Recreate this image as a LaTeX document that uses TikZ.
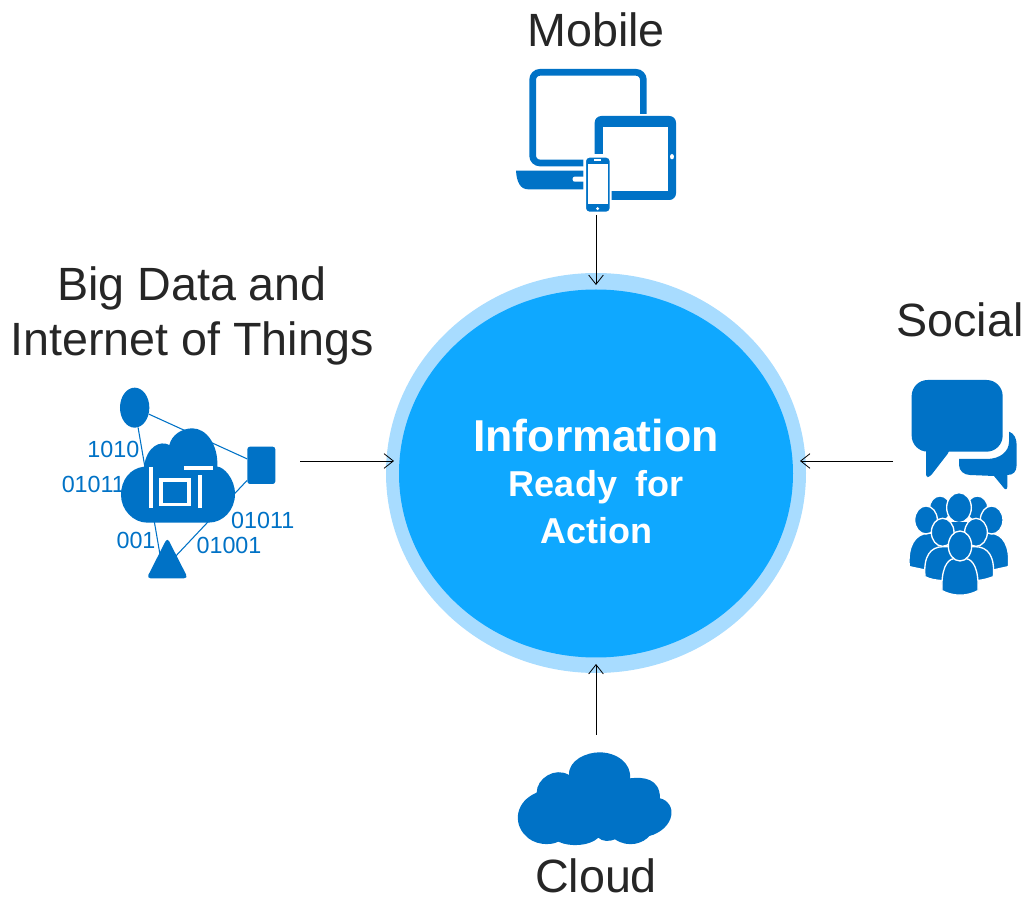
\documentclass[tikz,border=0pt]{standalone}
\usepackage{fontspec}
\setmainfont{Liberation Sans}
\usetikzlibrary{shapes.geometric,arrows.meta}
\definecolor{iconblue}{RGB}{0,114,198}
\definecolor{ringblue}{RGB}{168,220,255}
\definecolor{hubblue}{RGB}{15,168,255}
\definecolor{labelgrey}{RGB}{38,38,38}
\tikzset{
  title/.style={anchor=base,text=labelgrey,font=\fontsize{35}{35}\selectfont,inner sep=0pt},
  hubtext/.style={anchor=base,text=white,font=\fontsize{27}{27}\selectfont\bfseries,inner sep=0pt},
  bits/.style={text=iconblue,font=\fontsize{17.5}{17.5}\selectfont,inner sep=0pt},
  link/.style={draw=black,line width=0.6pt,-{Straight Barb[length=7pt,width=11pt,line width=0.6pt]}},
  iconfill/.style={fill=iconblue,draw=none},
  person/.style={fill=iconblue,draw=white,line width=1pt},
  wire/.style={draw=iconblue,line width=0.8pt},
  gap/.style={draw=white,line width=2.3pt}
}
\begin{document}
\begin{tikzpicture}[x=0.75pt,y=-0.75pt]
\useasboundingbox (0,0) rectangle (1026,898);

% hub in the middle
\node [ellipse,fill=ringblue,minimum width=315pt,minimum height=300pt,inner sep=0pt] (ring) at (596,473) {};
\node [ellipse,fill=hubblue,minimum width=295.5pt,minimum height=276pt,inner sep=0pt] (hub) at (596,473.5) {};
\node [hubtext,font=\fontsize{33.5}{33.5}\selectfont\bfseries] (information) at (596,452) {Information};
\node [hubtext] (ready) at (596,497) {Ready\hspace{6pt} for};
\node [hubtext] (action) at (596,544) {Action};

% titles
\node [title] (mobile) at (596,47) {Mobile};
\node [title] (bigdata) at (192,301) {Big Data and};
\node [title] (internet) at (192,356) {Internet of Things};
\node [title] (social) at (960,337) {Social};
\node [title] (cloud) at (596,893) {Cloud};

% laptop, tablet and phone
\begin{scope}[shift={(500,60)},scale=1/3]
  \draw [draw=iconblue,line width=5pt,rounded corners=5.5pt] (430,162) -- (430,37) -- (98,37) -- (98,309) -- (250,309);
  \fill [iconblue] (48,332) -- (250,332) -- (250,388) -- (85,388) .. controls (60,388) and (50,365) .. (48,332) -- cycle;
  \fill [white,rounded corners=1.5pt] (218,350) rectangle (260,365);
  \fill [iconblue,rounded corners=5pt] (284,168) rectangle (528,420);
  \fill [white] (310,200) rectangle (505,392);
  \fill [white] (516,290) ellipse [x radius=6,y radius=8];
  \fill [white] (255,282) rectangle (310,300);
  \fill [iconblue,rounded corners=3pt,draw=white,line width=1.6pt] (255,290) rectangle (332,458);
  \fill [white] (263,312) rectangle (325,432);
  \fill [white] (282,298) rectangle (304,303);
  \fill [white] (293,446) circle [radius=5];
\end{scope}

% speech bubbles and crowd
\begin{scope}[shift={(890,370)},scale=1/3]
  \fill [iconblue] (357,185) .. controls (372,190) and (380,205) .. (380,225) -- (380,285) .. controls (380,305) and (370,315) .. (352,315) -- (352,350) .. controls (352,360) and (345,360) .. (340,352) -- (312,318) -- (240,315) .. controls (222,315) and (207,302) .. (207,285) -- (207,267) -- (290,267) .. controls (330,267) and (357,245) .. (357,215) -- cycle;
  \fill [iconblue,rounded corners=12pt] (65,30) rectangle (338,245);
  \fill [iconblue,rounded corners=2pt] (108,225) -- (108,322) -- (120,320) -- (178,245) -- (178,225) -- cycle;
  % crowd, from the back row to the front
  \foreach \x/\y/\a/\b in {150/416/32/38,262/416/32/38,207/413/37/45} {
    \fill [person] (\x,\y) ellipse [x radius=\a,y radius=\b];
  }
  \fill [iconblue] (170,456) rectangle (245,510);
  \fill [person] (58,590) .. controls (52,530) and (75,490) .. (115,490) -- (300,490) .. controls (340,490) and (361,530) .. (355,590) -- (310,600) -- (105,600) -- cycle;
  \foreach \x in {108,305} {
    \fill [person] (\x,450) ellipse [x radius=34,y radius=42];
  }
  \fill [person] (105,620) .. controls (100,560) and (120,530) .. (160,530) -- (255,530) .. controls (295,530) and (315,560) .. (310,620) .. controls (290,628) and (275,630) .. (262,632) -- (155,632) .. controls (135,630) and (120,628) .. (105,620) -- cycle;
  \foreach \x in {158,258} {
    \fill [person] (\x,487) ellipse [x radius=34,y radius=42];
  }
  \fill [person] (156,662) .. controls (153,600) and (170,568) .. (192,566) -- (228,566) .. controls (250,568) and (267,600) .. (264,662) .. controls (230,680) and (190,680) .. (156,662) -- cycle;
  \fill [person] (210,528) ellipse [x radius=35,y radius=45];
\end{scope}

% big data and things
\begin{scope}[shift={(40,370)},scale=1/3]
  \node [bits] (bitsa) at (220,238) {1010};
  \node [bits] (bitsb) at (160,343) {01011};
  \node [bits] (bitsc) at (668,452) {01011};
  \node [bits] (bitsd) at (567,527) {01001};
  \node [bits] (bitse) at (288,510) {001};
  \node [ellipse,iconfill,minimum width=22pt,minimum height=30pt,inner sep=0pt] (thingoval) at (284,113) {};
  \node [rectangle,rounded corners=2pt,iconfill,minimum width=21pt,minimum height=28pt,inner sep=0pt] (thingbox) at (664,286) {};
  \coordinate (thingtri) at (368,600);
  \draw [wire] (thingoval) -- (thingbox) -- (thingtri) -- (thingoval);
  \fill [iconblue,rounded corners=3pt] (382,503) -- (444,625) -- (320,625) -- cycle;
  \fill [iconblue] (322,458) -- (505,458) .. controls (550,458) and (585,420) .. (585,372) .. controls (585,325) and (550,290) .. (532,290) .. controls (535,225) and (500,175) .. (457,175) .. controls (425,175) and (395,195) .. (388,225) .. controls (360,210) and (320,230) .. (312,290) .. controls (270,295) and (243,330) .. (243,375) .. controls (243,420) and (280,458) .. (322,458) -- cycle;
  \draw [gap] (333,291) -- (333,414);
  \draw [gap] (363,330) rectangle (447,403);
  \draw [gap] (432,294) -- (519,294);
  \draw [gap] (480,316) -- (480,414);
\end{scope}

% cloud
\begin{scope}[shift={(500,740)},scale=1/3]
  \fill [iconblue] (207,105) .. controls (205,60) and (260,37) .. (298,37) .. controls (350,37) and (395,70) .. (390,115) .. controls (430,110) and (480,115) .. (480,175) .. controls (505,180) and (518,205) .. (514,225) .. controls (510,255) and (480,280) .. (448,288) .. controls (430,310) and (385,325) .. (345,298) .. controls (330,305) and (305,305) .. (295,293) .. controls (270,318) and (210,322) .. (175,305) .. controls (150,318) and (100,315) .. (75,285) .. controls (40,250) and (45,185) .. (110,158) .. controls (110,115) and (165,80) .. (207,105) -- cycle;
\end{scope}

% connectors
\coordinate (mobilefoot) at (596,215);
\coordinate (hubtop) at (596,285);
\coordinate (thingsend) at (300,461);
\coordinate (hubleft) at (394,461);
\coordinate (socialend) at (893,461);
\coordinate (hubright) at (800,461);
\coordinate (cloudtop) at (596,735);
\coordinate (hubbottom) at (596,664);
\draw [link] (mobilefoot) -- (hubtop);
\draw [link] (thingsend) -- (hubleft);
\draw [link] (socialend) -- (hubright);
\draw [link] (cloudtop) -- (hubbottom);
\end{tikzpicture}
\end{document}
